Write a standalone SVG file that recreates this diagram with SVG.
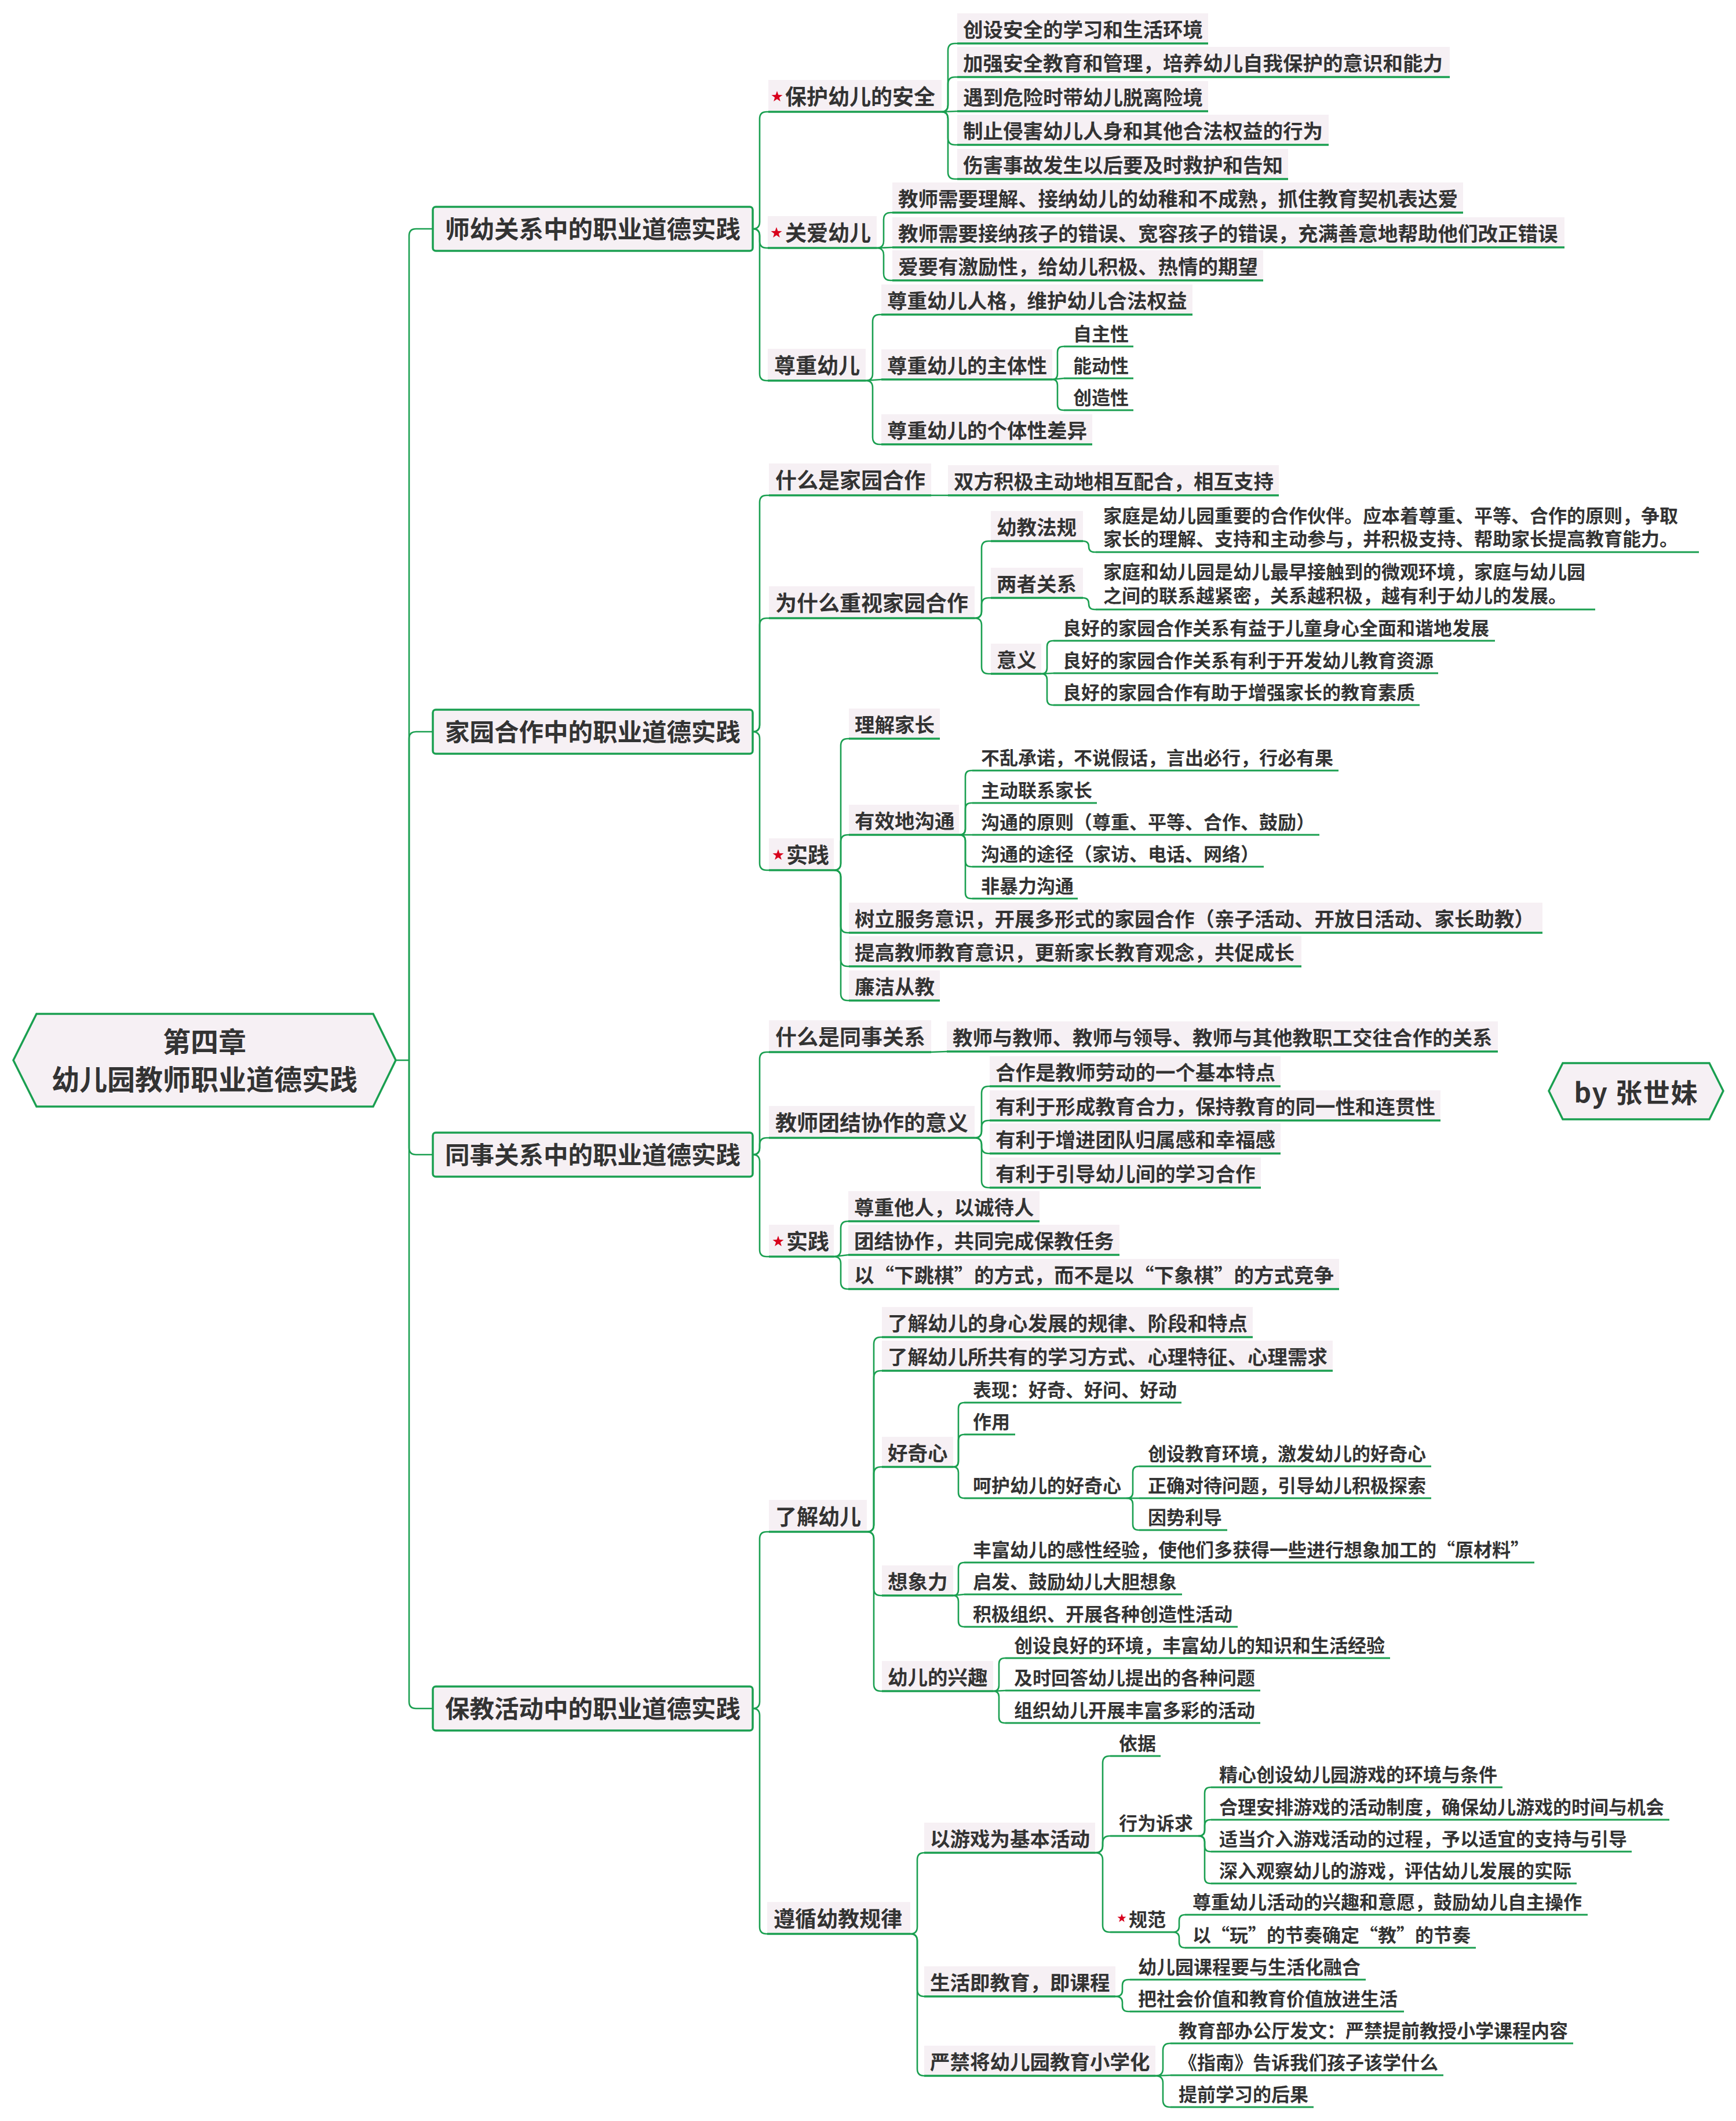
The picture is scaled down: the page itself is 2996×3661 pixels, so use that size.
<svg xmlns="http://www.w3.org/2000/svg" xmlns:xlink="http://www.w3.org/1999/xlink" width="2996" height="3661" viewBox="0 0 2996 3661">
<defs>
<style>
.bg{fill:#f6f0f4}
.box{fill:#f6f0f4;stroke:#1a9f50;stroke-width:3.5}
.ul{stroke:#1a9f50;stroke-width:3.6;fill:none}
.u4{stroke:#1a9f50;stroke-width:3;fill:none}
.c path{stroke:#1a9f50;stroke-width:2.6;fill:none}
.t{font-family:"Noto Sans CJK SC","Noto Sans CJK JP",sans-serif;font-weight:700;fill:#333333}
.f0{font-size:48px}.f1{font-size:42.5px}.f2{font-size:37px}.f3{font-size:34.5px}.f4{font-size:32px}
.m{text-anchor:middle}
.star{fill:#d8001c}
</style>
<polygon id="star" class="star" points="0,-10 2.35,-3.24 9.51,-3.09 3.8,1.24 5.88,8.09 0,4 -5.88,8.09 -3.8,1.24 -9.51,-3.09 -2.35,-3.24"/>
<polygon id="star8" class="star" points="0,-8 1.88,-2.59 7.61,-2.47 3.04,0.99 4.7,6.47 0,3.2 -4.7,6.47 -3.04,0.99 -7.61,-2.47 -1.88,-2.59"/>
</defs>
<rect x="0" y="0" width="2996" height="3661" fill="#ffffff"/>

<g class="c" id="connectors">
<path d="M683,1830 H706"/>
<path d="M706,1830 V407 Q706,395 718,395 H747"/>
<path d="M706,1830 V1275 Q706,1263 718,1263 H747"/>
<path d="M706,1830 V1981 Q706,1993 718,1993 H747"/>
<path d="M706,1830 V2937 Q706,2949 718,2949 H747"/>
<!-- section 1 -->
<path d="M1299,395 Q1311,395 1311,383 V205 Q1311,193 1323,193 H1326"/>
<path d="M1299,395 Q1311,395 1311,407 V416 Q1311,428 1323,428 H1325"/>
<path d="M1299,395 Q1311,395 1311,407 V645 Q1311,657 1323,657 H1325"/>
<path d="M1625,193 Q1636,193 1636,181 V87 Q1636,75 1648,75 H1652"/>
<path d="M1625,193 Q1636,193 1636,181 V145 Q1636,133 1648,133 H1652"/>
<path d="M1625,193 L1652,192"/>
<path d="M1625,193 Q1636,193 1636,205 V238 Q1636,250 1648,250 H1652"/>
<path d="M1625,193 Q1636,193 1636,205 V297 Q1636,309 1648,309 H1652"/>
<path d="M1513,428 Q1525,428 1525,416 V379 Q1525,367 1537,367 H1540"/>
<path d="M1513,428 L1540,427"/>
<path d="M1513,428 Q1525,428 1525,440 V472 Q1525,484 1537,484 H1540"/>
<path d="M1494,657 Q1506,657 1506,645 V555 Q1506,543 1518,543 H1521"/>
<path d="M1494,657 L1521,655"/>
<path d="M1494,657 Q1506,657 1506,669 V755 Q1506,767 1518,767 H1521"/>
<path d="M1816,655 Q1825,655 1825,645 V608 Q1825,598 1835,598 H1836"/>
<path d="M1816,655 L1836,653"/>
<path d="M1816,655 Q1825,655 1825,665 V698 Q1825,708 1835,708 H1836"/>
<!-- section 2 -->
<path d="M1299,1263 Q1311,1263 1311,1251 V867 Q1311,855 1323,855 H1327"/>
<path d="M1299,1263 Q1311,1263 1311,1251 V1079 Q1311,1067 1323,1067 H1327"/>
<path d="M1299,1263 Q1311,1263 1311,1275 V1490 Q1311,1502 1323,1502 H1327"/>
<path d="M1607,855 L1636,855"/>
<path d="M1682,1067 Q1694,1067 1694,1055 V946 Q1694,934 1706,934 H1710"/>
<path d="M1682,1067 Q1694,1067 1694,1055 V1044 Q1694,1032 1706,1032 H1710"/>
<path d="M1682,1067 Q1694,1067 1694,1079 V1151 Q1694,1163 1706,1163 H1710"/>
<path d="M1869,934 Q1879,934 1879,943.5 Q1879,953 1889,953 H1891"/>
<path d="M1869,1032 Q1879,1032 1879,1042 Q1879,1052 1889,1052 H1891"/>
<path d="M1797,1163 Q1807,1163 1807,1153 V1116 Q1807,1106 1817,1106 H1818"/>
<path d="M1797,1163 L1818,1162"/>
<path d="M1797,1163 Q1807,1163 1807,1173 V1207 Q1807,1217 1817,1217 H1818"/>
<path d="M1439,1502 Q1451,1502 1451,1490 V1287 Q1451,1275 1463,1275 H1465"/>
<path d="M1439,1502 Q1451,1502 1451,1490 V1453 Q1451,1441 1463,1441 H1465"/>
<path d="M1439,1502 Q1451,1502 1451,1514 V1598 Q1451,1610 1463,1610 H1465"/>
<path d="M1439,1502 Q1451,1502 1451,1514 V1656 Q1451,1668 1463,1668 H1465"/>
<path d="M1439,1502 Q1451,1502 1451,1514 V1715 Q1451,1727 1463,1727 H1465"/>
<path d="M1655,1441 Q1666,1441 1666,1431 V1340 Q1666,1330 1676,1330 H1678"/>
<path d="M1655,1441 Q1666,1441 1666,1431 V1396 Q1666,1386 1676,1386 H1678"/>
<path d="M1655,1441 L1678,1441"/>
<path d="M1655,1441 Q1666,1441 1666,1451 V1486 Q1666,1496 1676,1496 H1678"/>
<path d="M1655,1441 Q1666,1441 1666,1451 V1541 Q1666,1551 1676,1551 H1678"/>
<!-- section 3 -->
<path d="M1299,1993 Q1311,1993 1311,1981 V1828 Q1311,1816 1323,1816 H1327"/>
<path d="M1299,1993 Q1311,1993 1311,1981 V1976 Q1311,1964 1323,1964 H1327"/>
<path d="M1299,1993 Q1311,1993 1311,2005 V2157 Q1311,2169 1323,2169 H1327"/>
<path d="M1607,1816 L1634,1815"/>
<path d="M1682,1964 Q1694,1964 1694,1952 V1887 Q1694,1875 1706,1875 H1708"/>
<path d="M1682,1964 Q1694,1964 1694,1952 V1946 Q1694,1934 1706,1934 H1708"/>
<path d="M1682,1964 Q1694,1964 1694,1976 V1979 Q1694,1991 1706,1991 H1708"/>
<path d="M1682,1964 Q1694,1964 1694,1976 V2038 Q1694,2050 1706,2050 H1708"/>
<path d="M1439,2169 Q1451,2169 1451,2157 V2120 Q1451,2108 1463,2108 H1464"/>
<path d="M1439,2169 L1464,2166"/>
<path d="M1439,2169 Q1451,2169 1451,2181 V2213 Q1451,2225 1463,2225 H1464"/>
<!-- section 4 -->
<path d="M1299,2949 Q1311,2949 1311,2937 V2656 Q1311,2644 1323,2644 H1327"/>
<path d="M1299,2949 Q1311,2949 1311,2961 V3326 Q1311,3338 1323,3338 H1324"/>
<path d="M1496,2644 Q1508,2644 1508,2632 V2320 Q1508,2308 1520,2308 H1522"/>
<path d="M1496,2644 Q1508,2644 1508,2632 V2378 Q1508,2366 1520,2366 H1522"/>
<path d="M1496,2644 Q1508,2644 1508,2632 V2544 Q1508,2532 1520,2532 H1522"/>
<path d="M1496,2644 Q1508,2644 1508,2656 V2742 Q1508,2754 1520,2754 H1522"/>
<path d="M1496,2644 Q1508,2644 1508,2656 V2907 Q1508,2919 1520,2919 H1522"/>
<path d="M1645,2532 Q1654,2532 1654,2522 V2431 Q1654,2421 1664,2421"/>
<path d="M1645,2532 Q1654,2532 1654,2522 V2486 Q1654,2476 1664,2476"/>
<path d="M1645,2532 Q1654,2532 1654,2542 V2576 Q1654,2586 1664,2586"/>
<path d="M1944,2586 Q1955,2586 1955,2576 V2541 Q1955,2531 1965,2531 H1966"/>
<path d="M1944,2586 L1966,2586"/>
<path d="M1944,2586 Q1955,2586 1955,2596 V2631 Q1955,2641 1965,2641 H1966"/>
<path d="M1645,2754 Q1654,2754 1654,2744 V2707 Q1654,2697 1664,2697"/>
<path d="M1645,2754 L1664,2752"/>
<path d="M1645,2754 Q1654,2754 1654,2764 V2798 Q1654,2808 1664,2808"/>
<path d="M1714,2919 Q1724,2919 1724,2909 V2872 Q1724,2862 1734,2862 H1735"/>
<path d="M1714,2919 L1735,2918"/>
<path d="M1714,2919 Q1724,2919 1724,2929 V2964 Q1724,2974 1734,2974 H1735"/>
<path d="M1571,3338 Q1583,3338 1583,3326 V3210 Q1583,3198 1595,3198"/>
<path d="M1571,3338 Q1583,3338 1583,3350 V3434 Q1583,3446 1595,3446"/>
<path d="M1571,3338 Q1583,3338 1583,3350 V3571 Q1583,3583 1595,3583"/>
<path d="M1890,3198 Q1903,3198 1903,3186 V3043 Q1903,3031 1915,3031 H1916"/>
<path d="M1890,3198 Q1903,3198 1903,3186 V3181 Q1903,3169 1915,3169 H1916"/>
<path d="M1890,3198 Q1903,3198 1903,3210 V3323 Q1903,3335 1915,3335 H1916"/>
<path d="M2068,3169 Q2079,3169 2079,3159 V3095 Q2079,3085 2089,3085 H2090"/>
<path d="M2068,3169 Q2079,3169 2079,3159 V3151 Q2079,3141 2089,3141 H2090"/>
<path d="M2068,3169 Q2079,3169 2079,3179 V3186 Q2079,3196 2089,3196 H2090"/>
<path d="M2068,3169 Q2079,3169 2079,3179 V3241 Q2079,3251 2089,3251 H2090"/>
<path d="M2024,3335 Q2035,3335 2035,3325 V3315 Q2035,3305 2045,3305"/>
<path d="M2024,3335 Q2035,3335 2035,3345 V3352 Q2035,3362 2045,3362"/>
<path d="M1925,3446 Q1937,3446 1937,3436 V3427 Q1937,3417 1947,3417 H1950"/>
<path d="M1925,3446 Q1937,3446 1937,3456 V3462 Q1937,3472 1947,3472 H1950"/>
<path d="M1994,3583 Q2007,3583 2007,3571 V3539 Q2007,3527 2019,3527 H2020"/>
<path d="M1994,3583 L2020,3582"/>
<path d="M1994,3583 Q2007,3583 2007,3595 V3625 Q2007,3637 2019,3637 H2020"/>
</g>

<!-- root -->
<g id="root">
<polygon class="box" points="23,1830 63,1750 644,1750 683,1830 644,1910 63,1910"/>
<text class="t f0 m" x="353" y="1816">第四章</text>
<text class="t f0 m" x="353" y="1881">幼儿园教师职业道德实践</text>
</g>
<g id="author">
<polygon class="box" points="2673,1883 2697,1835 2950,1835 2974,1883 2950,1932 2697,1932"/>
<text class="t m" style="font-size:46px" x="2823" y="1903" textLength="213">by 张世妹</text>
</g>

<!-- Section 1 -->
<g id="s1"><rect class="box" x="747" y="357" width="552" height="76" rx="5"/><text class="t f1 m" x="1023" y="411">师幼关系中的职业道德实践</text></g>
<g id="s1-a"><rect class="bg" x="1326" y="138" width="299" height="55"/><line class="ul" x1="1326" y1="193" x2="1625" y2="193"/><use href="#star" x="1341" y="167"/><text class="t f2" x="1355" y="181">保护幼儿的安全</text></g>
<g id="s1-a1"><rect class="bg" x="1652" y="23" width="433" height="52"/><line class="ul" x1="1652" y1="75" x2="2085" y2="75"/><text class="t f3" x="1662" y="64">创设安全的学习和生活环境</text></g>
<g id="s1-a2"><rect class="bg" x="1652" y="81" width="850" height="52"/><line class="ul" x1="1652" y1="133" x2="2502" y2="133"/><text class="t f3" x="1662" y="122">加强安全教育和管理，培养幼儿自我保护的意识和能力</text></g>
<g id="s1-a3"><rect class="bg" x="1652" y="140" width="433" height="52"/><line class="ul" x1="1652" y1="192" x2="2085" y2="192"/><text class="t f3" x="1662" y="181">遇到危险时带幼儿脱离险境</text></g>
<g id="s1-a4"><rect class="bg" x="1652" y="198" width="641" height="52"/><line class="ul" x1="1652" y1="250" x2="2293" y2="250"/><text class="t f3" x="1662" y="239">制止侵害幼儿人身和其他合法权益的行为</text></g>
<g id="s1-a5"><rect class="bg" x="1652" y="257" width="571" height="52"/><line class="ul" x1="1652" y1="309" x2="2223" y2="309"/><text class="t f3" x="1662" y="298">伤害事故发生以后要及时救护和告知</text></g>
<g id="s1-b"><rect class="bg" x="1325" y="373" width="188" height="55"/><line class="ul" x1="1325" y1="428" x2="1513" y2="428"/><use href="#star" x="1340" y="402"/><text class="t f2" x="1355" y="416">关爱幼儿</text></g>
<g id="s1-b1"><rect class="bg" x="1540" y="315" width="985" height="52"/><line class="ul" x1="1540" y1="367" x2="2525" y2="367"/><text class="t f3" x="1550" y="356">教师需要理解、接纳幼儿的幼稚和不成熟，抓住教育契机表达爱</text></g>
<g id="s1-b2"><rect class="bg" x="1540" y="375" width="1160" height="52"/><line class="ul" x1="1540" y1="427" x2="2700" y2="427"/><text class="t f3" x="1550" y="416">教师需要接纳孩子的错误、宽容孩子的错误，充满善意地帮助他们改正错误</text></g>
<g id="s1-b3"><rect class="bg" x="1540" y="432" width="640" height="52"/><line class="ul" x1="1540" y1="484" x2="2180" y2="484"/><text class="t f3" x="1550" y="473">爱要有激励性，给幼儿积极、热情的期望</text></g>
<g id="s1-c"><rect class="bg" x="1325" y="602" width="169" height="55"/><line class="ul" x1="1325" y1="657" x2="1494" y2="657"/><text class="t f2" x="1336" y="645">尊重幼儿</text></g>
<g id="s1-c1"><rect class="bg" x="1521" y="491" width="537" height="52"/><line class="ul" x1="1521" y1="543" x2="2058" y2="543"/><text class="t f3" x="1531" y="532">尊重幼儿人格，维护幼儿合法权益</text></g>
<g id="s1-c2"><rect class="bg" x="1521" y="603" width="295" height="52"/><line class="ul" x1="1521" y1="655" x2="1816" y2="655"/><text class="t f3" x="1531" y="644">尊重幼儿的主体性</text></g>
<g id="s1-c2a"><line class="u4" x1="1836" y1="598" x2="1956" y2="598"/><text class="t f4" x="1852" y="588">自主性</text></g>
<g id="s1-c2b"><line class="u4" x1="1836" y1="653" x2="1956" y2="653"/><text class="t f4" x="1852" y="643">能动性</text></g>
<g id="s1-c2c"><line class="u4" x1="1836" y1="708" x2="1956" y2="708"/><text class="t f4" x="1852" y="698">创造性</text></g>
<g id="s1-c3"><rect class="bg" x="1521" y="715" width="364" height="52"/><line class="ul" x1="1521" y1="767" x2="1885" y2="767"/><text class="t f3" x="1531" y="756">尊重幼儿的个体性差异</text></g>

<!-- Section 2 -->
<g id="s2"><rect class="box" x="747" y="1225" width="552" height="76" rx="5"/><text class="t f1 m" x="1023" y="1279">家园合作中的职业道德实践</text></g>
<g id="s2-a"><rect class="bg" x="1327" y="800" width="280" height="55"/><line class="ul" x1="1327" y1="855" x2="1607" y2="855"/><text class="t f2" x="1338" y="843">什么是家园合作</text></g>
<g id="s2-a1"><rect class="bg" x="1636" y="803" width="571" height="52"/><line class="ul" x1="1636" y1="855" x2="2207" y2="855"/><text class="t f3" x="1646" y="844">双方积极主动地相互配合，相互支持</text></g>
<g id="s2-b"><rect class="bg" x="1327" y="1012" width="355" height="55"/><line class="ul" x1="1327" y1="1067" x2="1682" y2="1067"/><text class="t f2" x="1338" y="1055">为什么重视家园合作</text></g>
<g id="s2-b1"><rect class="bg" x="1710" y="882" width="159" height="52"/><line class="ul" x1="1710" y1="934" x2="1869" y2="934"/><text class="t f3" x="1720" y="923">幼教法规</text></g>
<g id="s2-b1a"><line class="u4" x1="1891" y1="953" x2="2932" y2="953"/><text class="t f4" x="1904" y="902">家庭是幼儿园重要的合作伙伴。应本着尊重、平等、合作的原则，争取</text><text class="t f4" x="1904" y="942">家长的理解、支持和主动参与，并积极支持、帮助家长提高教育能力。</text></g>
<g id="s2-b2"><rect class="bg" x="1710" y="980" width="159" height="52"/><line class="ul" x1="1710" y1="1032" x2="1869" y2="1032"/><text class="t f3" x="1720" y="1021">两者关系</text></g>
<g id="s2-b2a"><line class="u4" x1="1891" y1="1052" x2="2753" y2="1052"/><text class="t f4" x="1904" y="999">家庭和幼儿园是幼儿最早接触到的微观环境，家庭与幼儿园</text><text class="t f4" x="1904" y="1040">之间的联系越紧密，关系越积极，越有利于幼儿的发展。</text></g>
<g id="s2-b3"><rect class="bg" x="1710" y="1111" width="87" height="52"/><line class="ul" x1="1710" y1="1163" x2="1797" y2="1163"/><text class="t f3" x="1720" y="1152">意义</text></g>
<g id="s2-b3a"><line class="u4" x1="1818" y1="1106" x2="2580" y2="1106"/><text class="t f4" x="1834" y="1096">良好的家园合作关系有益于儿童身心全面和谐地发展</text></g>
<g id="s2-b3b"><line class="u4" x1="1818" y1="1162" x2="2482" y2="1162"/><text class="t f4" x="1834" y="1152">良好的家园合作关系有利于开发幼儿教育资源</text></g>
<g id="s2-b3c"><line class="u4" x1="1818" y1="1217" x2="2450" y2="1217"/><text class="t f4" x="1834" y="1207">良好的家园合作有助于增强家长的教育素质</text></g>
<g id="s2-c"><rect class="bg" x="1327" y="1447" width="112" height="55"/><line class="ul" x1="1327" y1="1502" x2="1439" y2="1502"/><use href="#star" x="1343" y="1476"/><text class="t f2" x="1357" y="1490">实践</text></g>
<g id="s2-c1"><rect class="bg" x="1465" y="1223" width="157" height="52"/><line class="ul" x1="1465" y1="1275" x2="1622" y2="1275"/><text class="t f3" x="1475" y="1264">理解家长</text></g>
<g id="s2-c2"><rect class="bg" x="1465" y="1389" width="190" height="52"/><line class="ul" x1="1465" y1="1441" x2="1655" y2="1441"/><text class="t f3" x="1475" y="1430">有效地沟通</text></g>
<g id="s2-c2a"><line class="u4" x1="1678" y1="1330" x2="2310" y2="1330"/><text class="t f4" x="1693" y="1320">不乱承诺，不说假话，言出必行，行必有果</text></g>
<g id="s2-c2b"><line class="u4" x1="1678" y1="1386" x2="1893" y2="1386"/><text class="t f4" x="1693" y="1376">主动联系家长</text></g>
<g id="s2-c2c"><line class="u4" x1="1678" y1="1441" x2="2277" y2="1441"/><text class="t f4" x="1693" y="1431">沟通的原则（尊重、平等、合作、鼓励）</text></g>
<g id="s2-c2d"><line class="u4" x1="1678" y1="1496" x2="2181" y2="1496"/><text class="t f4" x="1693" y="1486">沟通的途径（家访、电话、网络）</text></g>
<g id="s2-c2e"><line class="u4" x1="1678" y1="1551" x2="1860" y2="1551"/><text class="t f4" x="1693" y="1541">非暴力沟通</text></g>
<g id="s2-c3"><rect class="bg" x="1465" y="1558" width="1197" height="52"/><line class="ul" x1="1465" y1="1610" x2="2662" y2="1610"/><text class="t f3" x="1475" y="1599">树立服务意识，开展多形式的家园合作（亲子活动、开放日活动、家长助教）</text></g>
<g id="s2-c4"><rect class="bg" x="1465" y="1616" width="781" height="52"/><line class="ul" x1="1465" y1="1668" x2="2246" y2="1668"/><text class="t f3" x="1475" y="1657">提高教师教育意识，更新家长教育观念，共促成长</text></g>
<g id="s2-c5"><rect class="bg" x="1465" y="1675" width="157" height="52"/><line class="ul" x1="1465" y1="1727" x2="1622" y2="1727"/><text class="t f3" x="1475" y="1716">廉洁从教</text></g>

<!-- Section 3 -->
<g id="s3"><rect class="box" x="747" y="1955" width="552" height="76" rx="5"/><text class="t f1 m" x="1023" y="2009">同事关系中的职业道德实践</text></g>
<g id="s3-a"><rect class="bg" x="1327" y="1761" width="280" height="55"/><line class="ul" x1="1327" y1="1816" x2="1607" y2="1816"/><text class="t f2" x="1338" y="1804">什么是同事关系</text></g>
<g id="s3-a1"><rect class="bg" x="1634" y="1763" width="951" height="52"/><line class="ul" x1="1634" y1="1815" x2="2585" y2="1815"/><text class="t f3" x="1644" y="1804">教师与教师、教师与领导、教师与其他教职工交往合作的关系</text></g>
<g id="s3-b"><rect class="bg" x="1327" y="1909" width="355" height="55"/><line class="ul" x1="1327" y1="1964" x2="1682" y2="1964"/><text class="t f2" x="1338" y="1952">教师团结协作的意义</text></g>
<g id="s3-b1"><rect class="bg" x="1708" y="1823" width="502" height="52"/><line class="ul" x1="1708" y1="1875" x2="2210" y2="1875"/><text class="t f3" x="1718" y="1864">合作是教师劳动的一个基本特点</text></g>
<g id="s3-b2"><rect class="bg" x="1708" y="1882" width="778" height="52"/><line class="ul" x1="1708" y1="1934" x2="2486" y2="1934"/><text class="t f3" x="1718" y="1923">有利于形成教育合力，保持教育的同一性和连贯性</text></g>
<g id="s3-b3"><rect class="bg" x="1708" y="1939" width="502" height="52"/><line class="ul" x1="1708" y1="1991" x2="2210" y2="1991"/><text class="t f3" x="1718" y="1980">有利于增进团队归属感和幸福感</text></g>
<g id="s3-b4"><rect class="bg" x="1708" y="1998" width="468" height="52"/><line class="ul" x1="1708" y1="2050" x2="2176" y2="2050"/><text class="t f3" x="1718" y="2039">有利于引导幼儿间的学习合作</text></g>
<g id="s3-c"><rect class="bg" x="1327" y="2114" width="112" height="55"/><line class="ul" x1="1327" y1="2169" x2="1439" y2="2169"/><use href="#star" x="1343" y="2143"/><text class="t f2" x="1357" y="2157">实践</text></g>
<g id="s3-c1"><rect class="bg" x="1464" y="2056" width="330" height="52"/><line class="ul" x1="1464" y1="2108" x2="1794" y2="2108"/><text class="t f3" x="1474" y="2097">尊重他人，以诚待人</text></g>
<g id="s3-c2"><rect class="bg" x="1464" y="2114" width="468" height="52"/><line class="ul" x1="1464" y1="2166" x2="1932" y2="2166"/><text class="t f3" x="1474" y="2155">团结协作，共同完成保教任务</text></g>
<g id="s3-c3"><rect class="bg" x="1464" y="2173" width="847" height="52"/><line class="ul" x1="1464" y1="2225" x2="2311" y2="2225"/><text class="t f3" x="1474" y="2214" textLength="828">以“下跳棋”的方式，而不是以“下象棋”的方式竞争</text></g>

<!-- Section 4 -->
<g id="s4"><rect class="box" x="747" y="2911" width="552" height="76" rx="5"/><text class="t f1 m" x="1023" y="2965">保教活动中的职业道德实践</text></g>
<g id="s4-a"><rect class="bg" x="1327" y="2589" width="169" height="55"/><line class="ul" x1="1327" y1="2644" x2="1496" y2="2644"/><text class="t f2" x="1338" y="2632">了解幼儿</text></g>
<g id="s4-a1"><rect class="bg" x="1522" y="2256" width="640" height="52"/><line class="ul" x1="1522" y1="2308" x2="2162" y2="2308"/><text class="t f3" x="1532" y="2297">了解幼儿的身心发展的规律、阶段和特点</text></g>
<g id="s4-a2"><rect class="bg" x="1522" y="2314" width="778" height="52"/><line class="ul" x1="1522" y1="2366" x2="2300" y2="2366"/><text class="t f3" x="1532" y="2355">了解幼儿所共有的学习方式、心理特征、心理需求</text></g>
<g id="s4-a3"><rect class="bg" x="1522" y="2480" width="123" height="52"/><line class="ul" x1="1522" y1="2532" x2="1645" y2="2532"/><text class="t f3" x="1532" y="2521">好奇心</text></g>
<g id="s4-a3a"><line class="u4" x1="1664" y1="2421" x2="2039" y2="2421"/><text class="t f4" x="1679" y="2411">表现：好奇、好问、好动</text></g>
<g id="s4-a3b"><line class="u4" x1="1664" y1="2476" x2="1752" y2="2476"/><text class="t f4" x="1679" y="2466">作用</text></g>
<g id="s4-a3c"><line class="u4" x1="1664" y1="2586" x2="1944" y2="2586"/><text class="t f4" x="1679" y="2576">呵护幼儿的好奇心</text></g>
<g id="s4-a3c1"><line class="u4" x1="1966" y1="2531" x2="2470" y2="2531"/><text class="t f4" x="1981" y="2521">创设教育环境，激发幼儿的好奇心</text></g>
<g id="s4-a3c2"><line class="u4" x1="1966" y1="2586" x2="2470" y2="2586"/><text class="t f4" x="1981" y="2576">正确对待问题，引导幼儿积极探索</text></g>
<g id="s4-a3c3"><line class="u4" x1="1966" y1="2641" x2="2118" y2="2641"/><text class="t f4" x="1981" y="2631">因势利导</text></g>
<g id="s4-a4"><rect class="bg" x="1522" y="2702" width="123" height="52"/><line class="ul" x1="1522" y1="2754" x2="1645" y2="2754"/><text class="t f3" x="1532" y="2743">想象力</text></g>
<g id="s4-a4a"><line class="u4" x1="1664" y1="2697" x2="2648" y2="2697"/><text class="t f4" x="1679" y="2687" textLength="960">丰富幼儿的感性经验，使他们多获得一些进行想象加工的“原材料”</text></g>
<g id="s4-a4b"><line class="u4" x1="1664" y1="2752" x2="2040" y2="2752"/><text class="t f4" x="1679" y="2742">启发、鼓励幼儿大胆想象</text></g>
<g id="s4-a4c"><line class="u4" x1="1664" y1="2808" x2="2136" y2="2808"/><text class="t f4" x="1679" y="2798">积极组织、开展各种创造性活动</text></g>
<g id="s4-a5"><rect class="bg" x="1522" y="2867" width="192" height="52"/><line class="ul" x1="1522" y1="2919" x2="1714" y2="2919"/><text class="t f3" x="1532" y="2908">幼儿的兴趣</text></g>
<g id="s4-a5a"><line class="u4" x1="1735" y1="2862" x2="2399" y2="2862"/><text class="t f4" x="1750" y="2852">创设良好的环境，丰富幼儿的知识和生活经验</text></g>
<g id="s4-a5b"><line class="u4" x1="1735" y1="2918" x2="2175" y2="2918"/><text class="t f4" x="1750" y="2908">及时回答幼儿提出的各种问题</text></g>
<g id="s4-a5c"><line class="u4" x1="1735" y1="2974" x2="2175" y2="2974"/><text class="t f4" x="1750" y="2964">组织幼儿开展丰富多彩的活动</text></g>
<g id="s4-b"><rect class="bg" x="1324" y="3283" width="247" height="55"/><line class="ul" x1="1324" y1="3338" x2="1571" y2="3338"/><text class="t f2" x="1335" y="3326">遵循幼教规律</text></g>
<g id="s4-b1"><rect class="bg" x="1595" y="3146" width="295" height="52"/><line class="ul" x1="1595" y1="3198" x2="1890" y2="3198"/><text class="t f3" x="1605" y="3187">以游戏为基本活动</text></g>
<g id="s4-b1a"><line class="u4" x1="1916" y1="3031" x2="2003" y2="3031"/><text class="t f4" x="1931" y="3021">依据</text></g>
<g id="s4-b1b"><line class="u4" x1="1916" y1="3169" x2="2068" y2="3169"/><text class="t f4" x="1931" y="3159">行为诉求</text></g>
<g id="s4-b1b1"><line class="u4" x1="2090" y1="3085" x2="2593" y2="3085"/><text class="t f4" x="2104" y="3075">精心创设幼儿园游戏的环境与条件</text></g>
<g id="s4-b1b2"><line class="u4" x1="2090" y1="3141" x2="2881" y2="3141"/><text class="t f4" x="2104" y="3131">合理安排游戏的活动制度，确保幼儿游戏的时间与机会</text></g>
<g id="s4-b1b3"><line class="u4" x1="2090" y1="3196" x2="2816" y2="3196"/><text class="t f4" x="2104" y="3186">适当介入游戏活动的过程，予以适宜的支持与引导</text></g>
<g id="s4-b1b4"><line class="u4" x1="2090" y1="3251" x2="2721" y2="3251"/><text class="t f4" x="2104" y="3241">深入观察幼儿的游戏，评估幼儿发展的实际</text></g>
<g id="s4-b1c"><line class="u4" x1="1916" y1="3335" x2="2024" y2="3335"/><use href="#star8" x="1936" y="3311"/><text class="t f4" x="1948" y="3325">规范</text></g>
<g id="s4-b1c1"><line class="u4" x1="2045" y1="3305" x2="2740" y2="3305"/><text class="t f4" x="2058" y="3295">尊重幼儿活动的兴趣和意愿，鼓励幼儿自主操作</text></g>
<g id="s4-b1c2"><line class="u4" x1="2045" y1="3362" x2="2547" y2="3362"/><text class="t f4" x="2058" y="3352" textLength="480">以“玩”的节奏确定“教”的节奏</text></g>
<g id="s4-b2"><rect class="bg" x="1595" y="3394" width="330" height="52"/><line class="ul" x1="1595" y1="3446" x2="1925" y2="3446"/><text class="t f3" x="1605" y="3435">生活即教育，即课程</text></g>
<g id="s4-b2a"><line class="u4" x1="1950" y1="3417" x2="2357" y2="3417"/><text class="t f4" x="1964" y="3407">幼儿园课程要与生活化融合</text></g>
<g id="s4-b2b"><line class="u4" x1="1950" y1="3472" x2="2423" y2="3472"/><text class="t f4" x="1964" y="3462">把社会价值和教育价值放进生活</text></g>
<g id="s4-b3"><rect class="bg" x="1595" y="3531" width="399" height="52"/><line class="ul" x1="1595" y1="3583" x2="1994" y2="3583"/><text class="t f3" x="1605" y="3572">严禁将幼儿园教育小学化</text></g>
<g id="s4-b3a"><line class="u4" x1="2020" y1="3527" x2="2715" y2="3527"/><text class="t f4" x="2034" y="3517">教育部办公厅发文：严禁提前教授小学课程内容</text></g>
<g id="s4-b3b"><line class="u4" x1="2020" y1="3582" x2="2491" y2="3582"/><text class="t f4" x="2034" y="3572" textLength="448">《指南》告诉我们孩子该学什么</text></g>
<g id="s4-b3c"><line class="u4" x1="2020" y1="3637" x2="2267" y2="3637"/><text class="t f4" x="2034" y="3627">提前学习的后果</text></g>
</svg>
